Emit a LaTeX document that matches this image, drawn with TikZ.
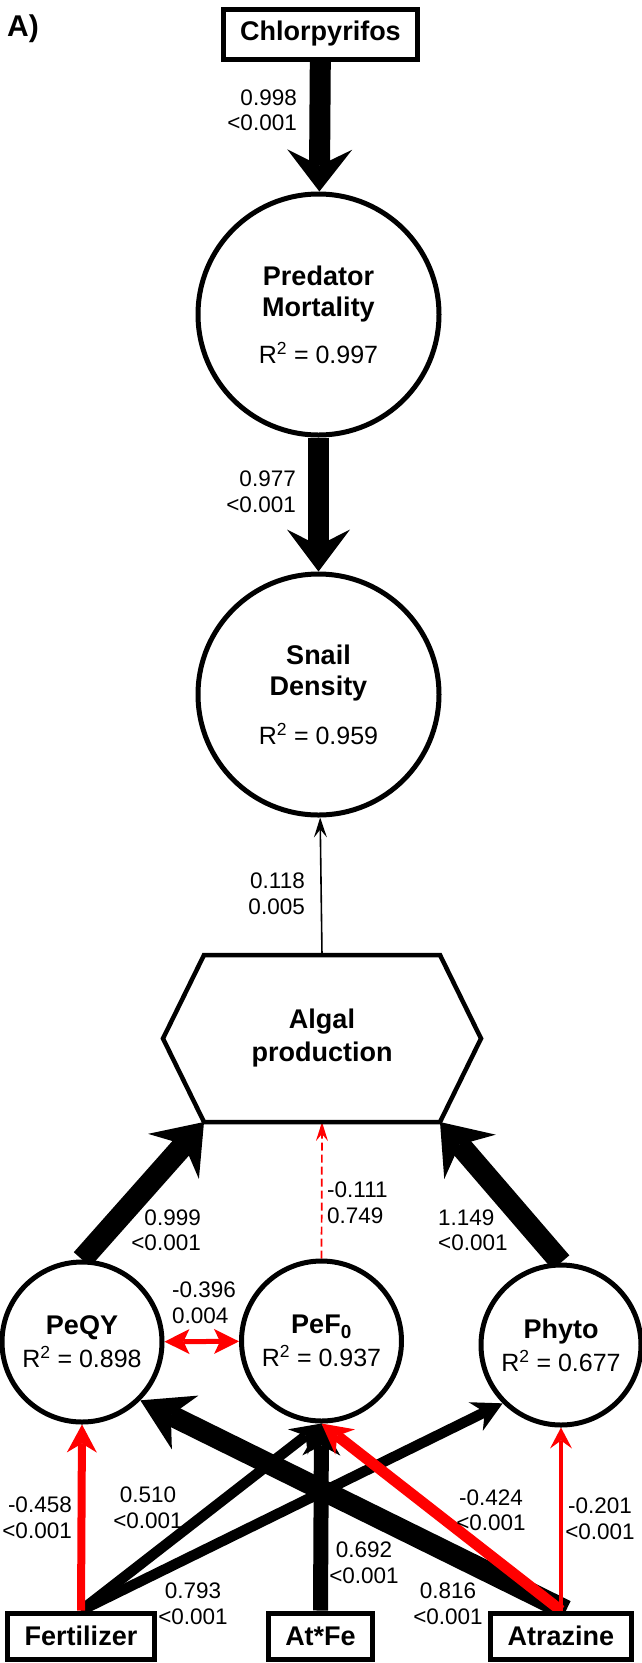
\documentclass[tikz,border=0pt]{standalone}
\usepackage{fontspec}
\setmainfont{Liberation Sans}
\usetikzlibrary{arrows.meta,backgrounds}

\tikzset{
  var/.style={circle,draw,line width=5pt,fill=white,align=center,font=\fontsize{25}{31}\selectfont},
  bigvar/.style={var,minimum size=241pt},
  smallvar/.style={var,minimum size=160pt,inner sep=0pt},
  treat/.style={rectangle,draw,line width=5pt,fill=white,inner xsep=17pt,minimum height=46pt,font=\fontsize{27}{31}\selectfont\bfseries},
  coef/.style={font=\fontsize{22.5}{25.5}\selectfont,inner sep=0pt},
  link/.style n args={4}{line width=#1,>={Stealth[length=#2,width=#3,inset=#4,line width=0pt]},->},
}
\newcommand{\vname}[1]{{\fontsize{27}{31}\selectfont\bfseries #1}}
\newcommand{\rsq}[1]{R\textsuperscript{2} = #1}

\begin{document}
\begin{tikzpicture}[x=1pt,y=-1pt]
  \useasboundingbox (0,0) rectangle (642,1663);

  \node[font=\fontsize{30}{36}\selectfont\bfseries] (panel) at (23,29) {A)};

  \node[treat,minimum height=50pt] (chl) at (320.5,34) {Chlorpyrifos};
  \node[bigvar] (pred) at (318.5,314.5) {\vname{Predator}\\\vname{Mortality}\\[16pt]\rsq{0.997}};
  \node[bigvar] (snail) at (318.5,694.5) {\vname{Snail}\\\vname{Density}\\[18pt]\rsq{0.959}};

  \node[inner sep=0pt,outer sep=0pt,minimum width=236pt,minimum height=167pt,align=center,font=\fontsize{27}{33}\selectfont\bfseries] (algal) at (322,1038.5) {Algal\\production};
  \draw[line width=4.5pt] (algal.north west) -- (algal.north east) -- ([xshift=41pt]algal.east)
    -- (algal.south east) -- (algal.south west) -- ([xshift=-41pt]algal.west) -- cycle;

  \node[smallvar] (peqy) at (82,1342) {\vname{PeQY}\\[2pt]\rsq{0.898}};
  \node[smallvar] (pef) at (321.5,1341) {\vname{PeF\textsubscript{0}}\\[2pt]\rsq{0.937}};
  \node[smallvar] (phyto) at (561,1345) {\vname{Phyto}\\[2pt]\rsq{0.677}};

  \node[treat] (fert) at (81,1636) {Fertilizer};
  \node[treat] (atfe) at (320.5,1636) {At*Fe};
  \node[treat] (atra) at (561,1636) {Atrazine};

  \node[coef,anchor=east,align=right] (cChl) at (297,110) {0.998\\<0.001};
  \node[coef,anchor=east,align=right] (cPred) at (296,491.5) {0.977\\<0.001};
  \node[coef,anchor=east,align=right] (cAlgal) at (305,893.5) {0.118\\0.005};
  \node[coef,anchor=east,align=right] (cPeqy) at (201,1230) {0.999\\<0.001};
  \node[coef,anchor=west,align=left] (cPef) at (327,1202.5) {-0.111\\0.749};
  \node[coef,anchor=west,align=left] (cPhyto) at (438,1230) {1.149\\<0.001};
  \node[coef,anchor=west,align=left] (cCov) at (172,1302.5) {-0.396\\0.004};
  \node[coef,anchor=east,align=right] (cFertQ) at (72,1517.5) {-0.458\\<0.001};
  \node[coef,align=center] (cFertF) at (148,1507.5) {0.510\\<0.001};
  \node[coef,align=center] (cFertP) at (193,1603.5) {0.793\\<0.001};
  \node[coef,align=center] (cAtfe) at (364,1562.5) {0.692\\<0.001};
  \node[coef,align=center] (cAtraQ) at (448,1603.5) {0.816\\<0.001};
  \node[coef,align=center] (cAtraF) at (491,1510) {-0.424\\<0.001};
  \node[coef,align=center] (cAtraP) at (600,1518.5) {-0.201\\<0.001};

  \begin{scope}[on background layer]
    \draw[link={21pt}{42pt}{65pt}{16pt}] (chl) -- (pred);
    \draw[link={21pt}{42pt}{63pt}{16pt}] (pred) -- (snail);
    \draw[link={1.6pt}{20pt}{13pt}{8pt}] (algal.north) -- (snail);
    \draw[link={22pt}{46pt}{68pt}{16pt}] (peqy.north) -- (algal.south west);
    \draw[link={22pt}{46pt}{68pt}{16pt}] (phyto.north) -- (algal.south east);
    \draw[link={10.5pt}{30pt}{32pt}{10pt}] (fert.north) -- (pef.south);
    \draw[link={10.5pt}{30pt}{32pt}{10pt}] (fert.north) -- (phyto.south west);
    \draw[link={15pt}{32pt}{38pt}{10pt}] (atfe.north) -- (pef.south);
    \draw[link={21pt}{50pt}{60pt}{16pt}] ([xshift=5pt]atra.north) -- (peqy.south east);
    \draw[red,link={1.7pt}{19pt}{12pt}{7pt},dash pattern=on 8pt off 4pt] (pef.north) -- (algal.south);
    \draw[red,link={5pt}{25pt}{25pt}{6pt},<->] (peqy) -- (pef);
    \draw[red,link={8pt}{28pt}{30pt}{9pt}] (fert.north) -- (peqy.south);
    \draw[red,link={11pt}{30pt}{32pt}{10pt}] (atra.north) -- (pef.south);
    \draw[red,link={3.5pt}{21pt}{22pt}{8pt}] (atra.north) -- (phyto.south);
  \end{scope}
\end{tikzpicture}
\end{document}
